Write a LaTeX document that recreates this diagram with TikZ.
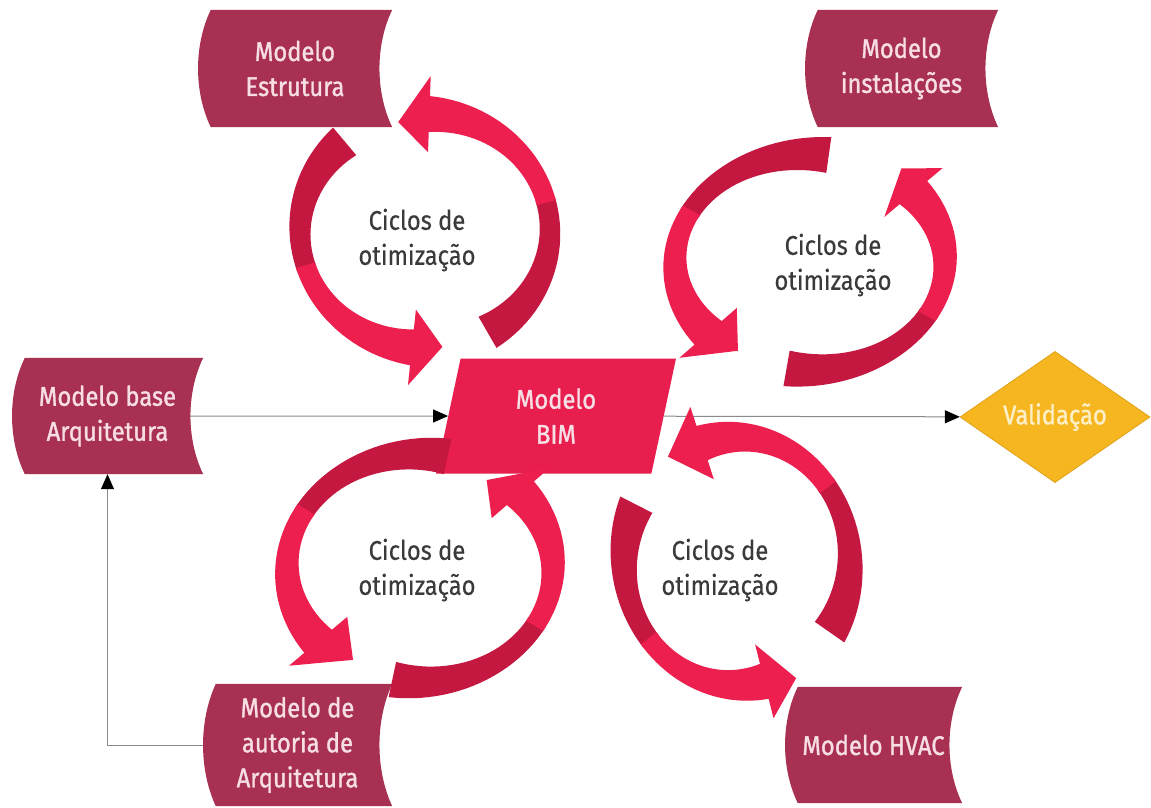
\documentclass[tikz,border=0pt]{standalone}
\usepackage{fontspec}
\setmainfont{Fira Sans}[FakeStretch=0.88,FakeBold=0.4]
\newfontfamily\boxfont{Fira Sans}[FakeStretch=0.88,FakeBold=1.2]
\usetikzlibrary{shapes.geometric,arrows.meta,calc}
\definecolor{boxc}{HTML}{A83052}
\definecolor{boxtext}{HTML}{F7DDE4}
\definecolor{bimc}{HTML}{E81E4E}
\definecolor{rbbright}{HTML}{EC1F4F}
\definecolor{rbdark}{HTML}{C41841}
\definecolor{valc}{HTML}{F6B620}
\definecolor{valedge}{HTML}{E0A21A}
\definecolor{valtext}{HTML}{FDF0C8}
\definecolor{cyctext}{HTML}{3A3A3A}
\definecolor{linec}{HTML}{8A8A8A}
\pgfdeclarelayer{paper}
\pgfdeclarelayer{lines}
\pgfdeclarelayer{bg}
\pgfsetlayers{paper,lines,bg,main}
\tikzset{
  txt/.style={font=\fontsize{27}{35}\selectfont, align=center},
  btxt/.style={font=\boxfont\fontsize{27}{35}\selectfont, align=center},
  sbox/.style={btxt, inner sep=0pt, text=boxtext},
  bimbox/.style={btxt, trapezium, trapezium stretches body=true, trapezium left angle=66, trapezium right angle=114,
    minimum width=240pt, minimum height=115pt, inner sep=0pt, fill=bimc, text=boxtext},
  valbox/.style={btxt, diamond, minimum width=190pt, minimum height=115pt, inner sep=0pt, fill=valc, draw=valedge, line width=0.8pt, text=valtext},
  cyc/.style={txt, text=cyctext},
  conn/.style={draw=linec, line width=1pt, -{Triangle[length=15pt,width=13pt,black]}},
}
\newcommand\storedfill[1]{%
  \fill[boxc] ([xshift=13pt]#1.north west) -- (#1.north east)
    .. controls ([xshift=-17pt]$(#1.north east)!0.3!(#1.south east)$) and ([xshift=-17pt]$(#1.north east)!0.7!(#1.south east)$) .. (#1.south east)
    -- ([xshift=13pt]#1.south west)
    .. controls ([xshift=-4pt]$(#1.north west)!0.7!(#1.south west)$) and ([xshift=-4pt]$(#1.north west)!0.3!(#1.south west)$) .. ([xshift=13pt]#1.north west) -- cycle;}
% cx cy rx ry w t1(tail) t2(head base) t3(tip) tipfactor
\newcommand\ribbon[9]{%
  \pgfmathsetmacro\rbMid{(#6+#7)/2}%
  \pgfmathsetmacro\rbSpan{#6-#7}%
  \pgfmathsetmacro\rbMidd{\rbMid-2}%
  \fill[rbdark] plot[domain=#6:\rbMidd,samples=25] ({#1+(#3+0.5*#5*(1-0.45*sin((#6-\x)/\rbSpan*180)))*cos(\x)},{#2+(#4+0.5*#5*(1-0.45*sin((#6-\x)/\rbSpan*180)))*sin(\x)})
    -- plot[domain=\rbMidd:#6,samples=25] ({#1+(#3-0.5*#5*(1-0.45*sin((#6-\x)/\rbSpan*180)))*cos(\x)},{#2+(#4-0.5*#5*(1-0.45*sin((#6-\x)/\rbSpan*180)))*sin(\x)}) -- cycle;
  \fill[rbbright] plot[domain=\rbMid:#7,samples=25] ({#1+(#3+0.5*#5*(1-0.45*sin((#6-\x)/\rbSpan*180)))*cos(\x)},{#2+(#4+0.5*#5*(1-0.45*sin((#6-\x)/\rbSpan*180)))*sin(\x)})
    -- ({#1+(#3+0.5*#5+20)*cos(#7)},{#2+(#4+0.5*#5+20)*sin(#7)})
    -- ({#1+#9*#3*cos(#8)},{#2+#9*#4*sin(#8)})
    -- ({#1+(#3-0.5*#5-20)*cos(#7)},{#2+(#4-0.5*#5-20)*sin(#7)})
    -- plot[domain=#7:\rbMid,samples=25] ({#1+(#3-0.5*#5*(1-0.45*sin((#6-\x)/\rbSpan*180)))*cos(\x)},{#2+(#4-0.5*#5*(1-0.45*sin((#6-\x)/\rbSpan*180)))*sin(\x)}) -- cycle;
}
\begin{document}
\begin{tikzpicture}[x=1pt,y=-1pt]
\begin{pgfonlayer}{paper}
\fill[white] (0,0) rectangle (1151,807);
\end{pgfonlayer}
\useasboundingbox (0,0) rectangle (1151,807);

% boxes
\node[sbox, minimum width=194pt, minimum height=117pt] (estr) at (295,68.5) {Modelo\\Estrutura};
\node[sbox, minimum width=193pt, minimum height=117pt] (inst) at (901.5,68.5) {Modelo\\instalações};
\node[sbox, minimum width=191pt, minimum height=116pt] (base) at (107.5,416) {Modelo base\\Arquitetura};
\node[sbox, minimum width=189pt, minimum height=122pt] (aut) at (297.5,745) {Modelo de\\autoria de\\Arquitetura};
\node[sbox, minimum width=177pt, minimum height=116pt] (hvac) at (873.5,745) {Modelo HVAC};
\node[bimbox] (bim) at (556,416) {Modelo\\BIM};
\node[valbox] (val) at (1055,417) {Validação};

\begin{pgfonlayer}{bg}
  \storedfill{estr}
  \storedfill{inst}
  \storedfill{base}
  \storedfill{aut}
  \storedfill{hvac}
\end{pgfonlayer}

\begin{pgfonlayer}{lines}
  \draw[conn] (base.center) -- (bim);
  \draw[conn] (bim) -- (val);
  \draw[conn] (aut.west) -| (base.south);
\end{pgfonlayer}

% cycles
\ribbon{425}{231}{125}{117}{36}{60}{-88}{-103}{0.955}
\ribbon{425}{231}{125}{117}{36}{230}{96}{82}{1.0}
\ribbon{810}{262}{135}{108}{36}{278}{139}{123}{0.98}
\ribbon{810}{262}{135}{108}{36}{100}{-40}{-52}{1.1}
\ribbon{420}{568}{133}{114}{36}{282}{140}{122}{0.95}
\ribbon{420}{568}{133}{114}{36}{102}{-41}{-57}{0.92}
\ribbon{737}{561}{113}{124}{36}{35}{-108}{-126}{1.04}
\ribbon{737}{561}{113}{124}{36}{207}{76}{61}{1.08}

\node[cyc] (c1) at (417,240) {Ciclos de\\otimização};
\node[cyc] (c2) at (833,265) {Ciclos de\\otimização};
\node[cyc] (c3) at (417,570) {Ciclos de\\otimização};
\node[cyc] (c4) at (720,570) {Ciclos de\\otimização};
\end{tikzpicture}
\end{document}
